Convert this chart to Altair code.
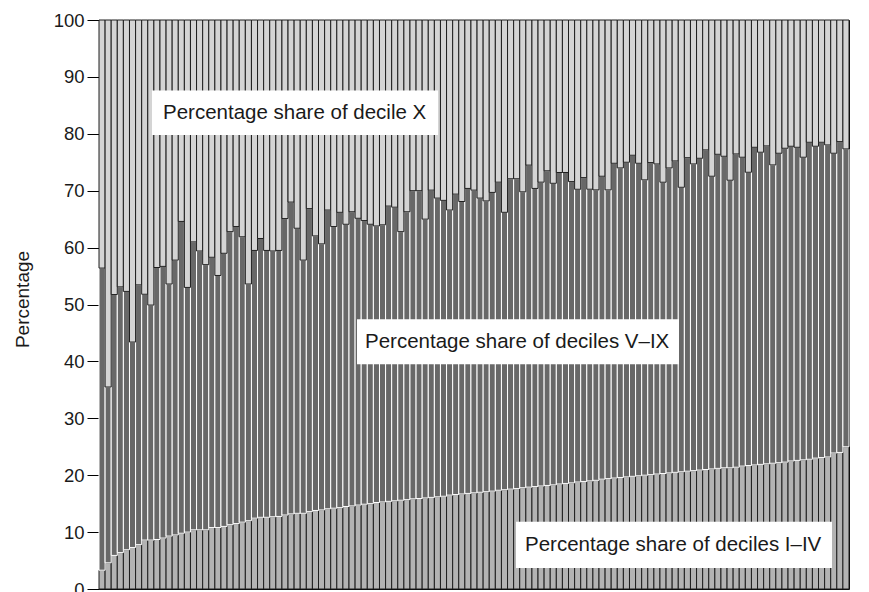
import altair as alt
import pandas as pd

# Share of income of deciles I–IV (bottom segment), one value per country, sorted ascending
share_I_IV = [
    3.3, 4.6, 5.9, 6.4, 6.9, 7.3, 7.8, 8.6, 8.6, 8.7, 8.95, 9.3, 9.5, 9.8, 10.0, 10.4, 10.4, 10.4, 10.8, 10.8, 11.0,
    11.3, 11.5, 11.75, 12.0, 12.45, 12.6, 12.6, 12.7, 12.75, 13.0, 13.2, 13.3, 13.3, 13.6, 13.8, 13.9, 14.1, 14.2, 14.3, 14.5,
    14.6, 14.75, 14.9, 15.0, 15.2, 15.3, 15.4, 15.5, 15.6, 15.7, 15.85, 15.9, 16.0, 16.1, 16.2, 16.3, 16.5, 16.6, 16.7, 16.8,
    16.9, 17.0, 17.1, 17.2, 17.35, 17.45, 17.55, 17.65, 17.8, 17.9, 18.0, 18.1, 18.2, 18.3, 18.45, 18.55, 18.65, 18.8, 18.9, 19.0,
    19.1, 19.3, 19.4, 19.5, 19.6, 19.7, 19.8, 19.9, 20.0, 20.1, 20.2, 20.3, 20.4, 20.5, 20.6, 20.7, 20.8, 20.9, 21.0, 21.1, 21.2,
    21.3, 21.3, 21.4, 21.6, 21.7, 21.8, 21.9, 22.0, 22.1, 22.2, 22.3, 22.5, 22.6, 22.7, 22.8, 23.0, 23.1, 23.2, 23.9, 24.0, 25.0,
]

# Cumulative share of deciles I–IX (top of the dark segment); decile X is the rest up to 100
share_I_IX = [
    56.4, 35.5, 51.75, 53.1, 52.3, 43.4, 53.45, 51.8, 49.9, 56.5, 56.7, 53.6, 57.8, 64.6, 53.0, 61.0, 59.4, 57.0, 58.3, 55.1,
    59.0, 62.8, 63.7, 61.9, 53.6, 59.5, 61.6, 59.5, 59.4, 59.5, 65.1, 68.0, 63.4, 57.8, 66.85, 62.05, 60.65, 66.6, 63.7, 66.2, 64.1,
    66.3, 65.15, 64.75, 64.1, 63.8, 64.0, 67.3, 67.1, 62.8, 66.3, 70.0, 70.0, 65.0, 70.1, 68.7, 68.3, 66.6, 69.4, 68.1, 70.4,
    70.1, 68.7, 68.2, 69.7, 71.5, 66.2, 72.1, 72.1, 69.8, 74.5, 70.4, 71.5, 73.5, 71.3, 73.2, 73.2, 71.6, 70.25, 72.3,
    70.26, 70.14, 72.54, 70.14, 74.82, 74.0, 75.0, 76.23, 74.82, 71.9, 74.94, 74.7, 71.49, 74.0, 75.23, 70.6, 75.8, 74.7,
    75.7, 77.17, 72.54, 76.4, 76.05, 71.84, 76.46, 75.88, 73.24, 77.63, 76.76, 77.87, 74.53, 76.58, 77.46, 77.81, 77.63,
    75.88, 78.51, 77.81, 78.51, 78.04, 76.58, 78.63, 77.34,
]

countries = [f"C{i + 1:03d}" for i in range(len(share_I_IV))]

annotations = [
    # text, box left/right (px from plot left), box top/bottom (percent), text x (px), text y (percent)
    ("Percentage share of decile X", 53, 339, 87.6, 79.8, 64, 83.7),
    ("Percentage share of deciles V\u2013IX", 258, 580, 47.4, 39.5, 266, 43.45),
    ("Percentage share of deciles I\u2013IV", 417, 733, 11.8, 3.7, 426, 7.75),
]

rows = []
for c, lo, hi in zip(countries, share_I_IV, share_I_IX):
    rows.append({"country": c, "segment": "I-IV", "y0": 0.0, "y1": lo})
    rows.append({"country": c, "segment": "V-IX", "y0": lo, "y1": hi})
    rows.append({"country": c, "segment": "X", "y0": hi, "y1": 100.0})
df = pd.DataFrame(rows)

FONT = "Liberation Sans, Arial, Helvetica, sans-serif"
y_scale = alt.Scale(domain=[0, 100], nice=False, zero=True)
x_enc = alt.X("country:N", sort=countries, axis=None,
              scale=alt.Scale(paddingInner=0, paddingOuter=0))

base = alt.Chart(df)


def segment(name, fill, stroke, with_axis=False):
    if with_axis:
        y = alt.Y("y0:Q", scale=y_scale,
                  axis=alt.Axis(values=list(range(0, 101, 10)), title="Percentage",
                                grid=False, tickSize=12, labelPadding=3,
                                labelFontSize=18.5, labelFont=FONT, labelColor="#1a1a1a",
                                titleFontSize=19, titleFont=FONT, titleFontWeight="normal",
                                titleColor="#1a1a1a", titleX=-77, titleY=279,
                                titleAngle=-90, titleAlign="center", titleBaseline="middle",
                                domainColor="#000000", tickColor="#000000",
                                domainWidth=1, tickWidth=1))
    else:
        y = alt.Y("y0:Q", scale=y_scale)
    return (base.transform_filter(alt.datum.segment == name)
            .mark_bar(fill=fill, stroke=stroke, strokeWidth=1)
            .encode(x=x_enc, y=y, y2="y1:Q"))


layers = [
    segment("I-IV", "#b3b3b3", "#1e1e1e", with_axis=True),
    segment("V-IX", "#686868", "#ffffff"),
    segment("X", "#d4d4d4", "#1e1e1e"),
]

for text, bx0, bx1, btop, bbot, tx, ty in annotations:
    ann = pd.DataFrame([{"label": text, "top": btop, "bot": bbot, "mid": ty}])
    box = alt.Chart(ann).mark_rect(fill="white").encode(
        x=alt.value(bx0), x2=alt.value(bx1),
        y=alt.Y("top:Q", scale=y_scale), y2="bot:Q")
    txt = alt.Chart(ann).mark_text(align="left", baseline="middle", fontSize=20.5,
                                   font=FONT, color="#1a1a1a").encode(
        x=alt.value(tx), y=alt.Y("mid:Q", scale=y_scale), text="label:N")
    layers += [box, txt]

chart = (alt.layer(*layers)
         .properties(width=750, height=569,
                     autosize=alt.AutoSizeParams(type="none"),
                     padding={"left": 91, "top": 12, "right": 10, "bottom": 10},
                     background="white")
         .configure_view(stroke="#000000", strokeWidth=1))

chart.save("out.html", embed_options={"renderer": "svg", "actions": False})
